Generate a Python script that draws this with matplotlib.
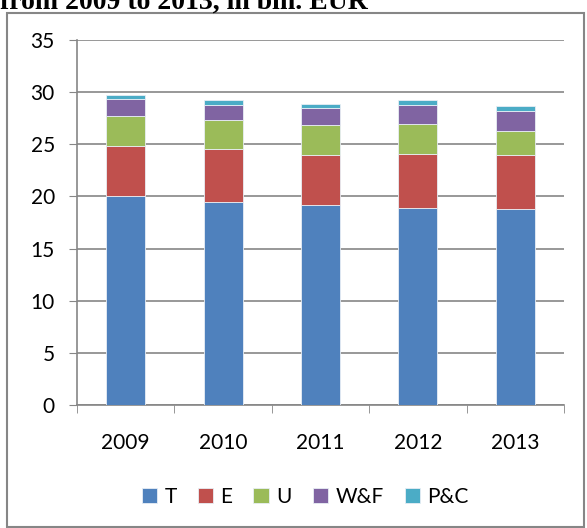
import numpy as np
import matplotlib
matplotlib.use("Agg")
import matplotlib.pyplot as plt
from matplotlib.patches import Rectangle

years = ["2009", "2010", "2011", "2012", "2013"]
series_names = ["T", "E", "U", "W&F", "P&C"]
t_vals = [20.0, 19.5, 19.2, 18.9, 18.8]
e_vals = [4.8, 5.0, 4.8, 5.2, 5.2]
u_vals = [2.9, 2.8, 2.8, 2.8, 2.3]
wf_vals = [1.6, 1.5, 1.7, 1.9, 1.9]
pc_vals = [0.4, 0.4, 0.4, 0.4, 0.5]
colors = ["#4F81BD", "#C0504D", "#9BBB59", "#8064A2", "#4BACC6"]

plt.rcParams['font.family'] = ['Lato', 'DejaVu Sans']

fig = plt.figure(figsize=(5.87, 5.28), dpi=100)
ax = fig.add_axes([0.1312, 0.2330, 0.8296, 0.6913])

x = np.arange(len(years))
bottom = np.zeros(len(years))
for name, vals, col in zip(series_names, [t_vals, e_vals, u_vals, wf_vals, pc_vals], colors):
    ax.bar(x, vals, width=0.4, bottom=bottom, color=col, label=name,
           edgecolor="#e8eef5", linewidth=0.6, zorder=3)
    bottom += np.array(vals)

ax.set_xlim(-0.5, 4.5)
ax.set_ylim(0, 35)
ax.set_yticks(range(0, 36, 5))
ax.set_xticks(x)
ax.set_xticklabels(years)
ax.set_xticks(np.arange(-0.5, 5, 1), minor=True)
ax.tick_params(axis='x', which='major', length=0, pad=20, labelsize=15)
ax.tick_params(axis='x', which='minor', length=6, color="#868686", direction='out')
ax.tick_params(axis='y', length=6, color="#868686", labelsize=15, pad=10)
ax.grid(axis='y', color="#868686", linewidth=1.2, zorder=0)
for s in ['top', 'right']:
    ax.spines[s].set_visible(False)
for s in ['left', 'bottom']:
    ax.spines[s].set_color("#868686")
    ax.spines[s].set_linewidth(1.2)

fig.legend(loc='center', bbox_to_anchor=(0.52, 0.0587), ncol=5, frameon=False,
           fontsize=15, handlelength=0.75, handleheight=0.75, handletextpad=0.35,
           columnspacing=1.0)

# outer chart frame
fig.patches.append(Rectangle((7 / 587, 0.002), 0.995 - 7 / 587, 1 - 13 / 528 - 0.002,
                             transform=fig.transFigure, fill=False,
                             edgecolor="#868686", linewidth=1.5))

fig.text(0.0, 1 - 9 / 528, "from 2009 to 2013, in bln. EUR", fontsize=20,
         fontweight='bold', family='Liberation Serif', va='baseline', ha='left')

fig.savefig("out.png", dpi=100)
